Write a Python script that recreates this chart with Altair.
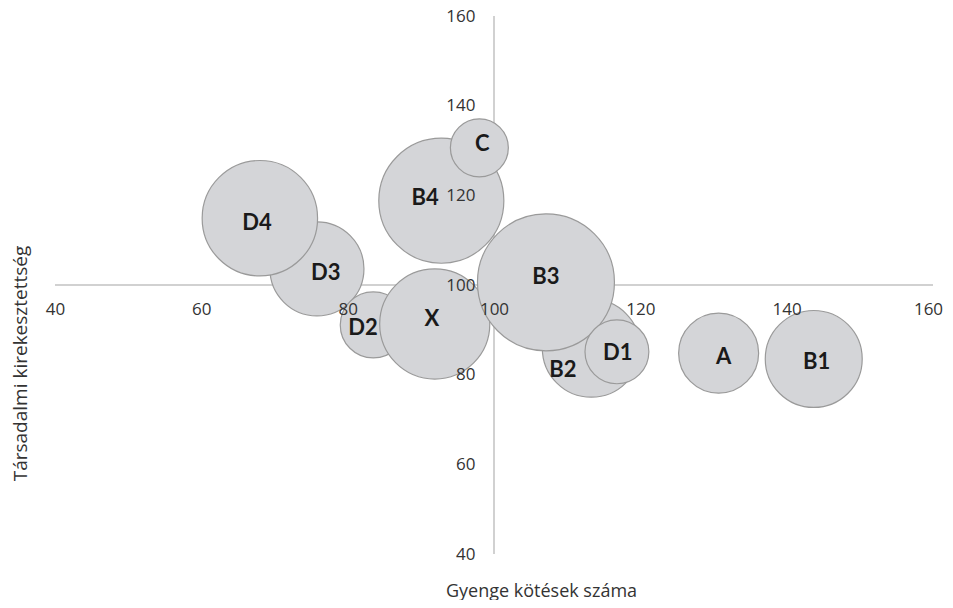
import altair as alt
import pandas as pd

# Bubble data (draw order)
names = ["D3", "D4", "D2", "X", "B4", "C", "B2", "B3", "D1", "A", "B1"]
kotesek = [75.8, 68.0, 83.5, 91.9, 92.8, 98.0, 113.3, 107.1, 116.8, 130.7, 143.7]
kirekesztettseg = [103.6, 114.9, 91.1, 91.3, 118.8, 130.6, 85.9, 100.6, 85.1, 84.8, 83.5]
meret = [22.1, 33.3, 10.9, 30.3, 39.1, 8.4, 24.0, 46.9, 10.2, 16.0, 23.5]
label_x = [77.0, 67.6, 82.1, 91.5, 90.6, 98.4, 109.4, 107.1, 116.9, 131.4, 144.1]
label_y = [102.7, 113.8, 90.4, 92.4, 119.4, 131.5, 81.0, 101.8, 84.8, 83.9, 82.8]

ticks = [40, 60, 80, 100, 120, 140, 160]
x_title = "Gyenge kötések száma"
y_title = "Társadalmi kirekesztettség"

df = pd.DataFrame({"name": names, "x": kotesek, "y": kirekesztettseg, "size": meret,
                   "lx": label_x, "ly": label_y})

W, H = 878, 538
font = "Open Sans"

xscale = alt.Scale(domain=[40, 160], nice=False, zero=False)
yscale = alt.Scale(domain=[40, 160], nice=False, zero=False)

vline = alt.Chart(pd.DataFrame({"x": [100], "y": [40], "y2": [160]})).mark_rule(
    color="#c2c2c2", strokeWidth=1.5
).encode(x=alt.X("x:Q", scale=xscale), y=alt.Y("y:Q", scale=yscale), y2="y2:Q")

hline = alt.Chart(pd.DataFrame({"x": [40], "x2": [160], "y": [100]})).mark_rule(
    color="#c2c2c2", strokeWidth=1.5
).encode(x=alt.X("x:Q", scale=xscale), x2="x2:Q", y=alt.Y("y:Q", scale=yscale))

bubbles = alt.Chart(df).mark_circle(
    fill="#d4d5d8", stroke="#9a9a9a", strokeWidth=1.2, opacity=1, fillOpacity=1
).encode(
    x=alt.X("x:Q", scale=xscale, axis=alt.Axis(
        values=ticks, offset=-H / 2, domain=False, ticks=False, grid=False,
        labelPadding=16, labelFontSize=17, labelFont=font, labelColor="#333333",
        labelFlush=False, labelOverlap=False, zindex=1,
        labelOffset={"expr": "datum.value == 160 ? -5 : 0"},
        title=x_title, titleFont=font, titleFontSize=18, titleFontWeight="normal",
        titleColor="#333333", titleX=486, titleY=306, titleBaseline="middle",
        titleAlign="center")),
    y=alt.Y("y:Q", scale=yscale, axis=alt.Axis(
        values=ticks, offset=-W / 2, domain=False, ticks=False, grid=False,
        labelPadding=19, labelFontSize=17, labelFont=font, labelColor="#333333",
        labelFlush=False, labelOverlap=False, zindex=1,
        title=y_title, titleFont=font, titleFontSize=19, titleFontWeight="normal",
        titleColor="#333333", titleX=-474, titleY=347, titleBaseline="middle",
        titleAlign="center", titleAngle=270)),
    size=alt.Size("size:Q", scale=alt.Scale(domain=[0, 100], range=[0, 40000]), legend=None),
    order=alt.Order("idx:Q"),
).transform_window(idx="row_number()")

labels = alt.Chart(df).mark_text(
    font="Lato", fontWeight="bold", fontSize=22, color="#1a1a1a", baseline="middle", align="center"
).encode(x=alt.X("lx:Q", scale=xscale), y=alt.Y("ly:Q", scale=yscale), text="name:N")

chart = alt.layer(vline, hline, bubbles, labels).properties(
    width=W, height=H,
    background="white",
    autosize=alt.AutoSizeParams(type="none"),
    padding={"left": 47, "top": 8, "right": 12, "bottom": 46},
).configure_view(strokeWidth=0, stroke="transparent")

chart.save("out.html", embed_options={"renderer": "svg", "actions": False})
